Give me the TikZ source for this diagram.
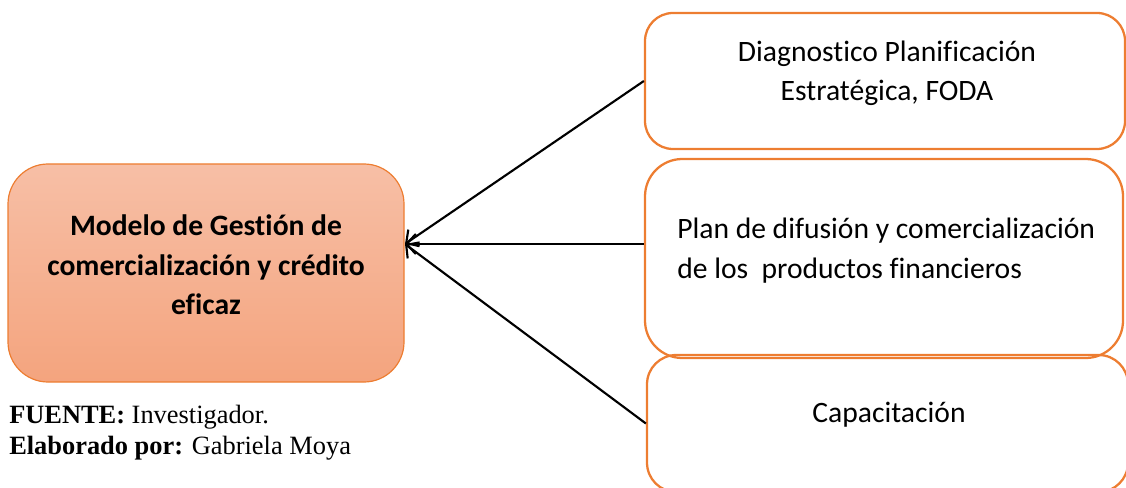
\documentclass[tikz,border=0pt]{standalone}
\usepackage{fontspec}
\setmainfont{Liberation Serif}
\newfontfamily\boxfont[RawFeature={-liga;-clig;-dlig;-calt}]{Carlito}
\usetikzlibrary{arrows.meta,calc}
\definecolor{orangeline}{RGB}{237,125,49}
\definecolor{salmontop}{RGB}{247,191,166}
\definecolor{salmonbot}{RGB}{244,164,126}
\tikzset{
  outbox/.style={draw=orangeline, line width=1.7pt, rounded corners=#1, inner sep=0pt},
  mainbox/.style={draw=orangeline, line width=0.9pt, rounded corners=30pt, top color=salmontop, bottom color=salmonbot, inner sep=0pt},
  boxtext/.style={font=\boxfont\fontsize{22.2}{29.5}\selectfont, inner sep=0pt},
  captext/.style={font=\fontsize{19.8}{23}\selectfont, anchor=base west, inner sep=0pt},
  link/.style={line width=1.6pt, -{Straight Barb[length=7pt,width=15pt,line width=1.6pt]}}
}
\begin{document}
\begin{tikzpicture}[x=0.75pt,y=-0.75pt]
\useasboundingbox (0,0) rectangle (1126,488);
\clip (0,0) rectangle (1126,488);
% boxes
\node[mainbox, minimum width=297pt, minimum height=163.5pt] (main) at (206,273) {};
\node[outbox=21pt, minimum width=360pt, minimum height=102pt] (diag) at (885,81) {};
\node[outbox=22pt, minimum width=360.75pt, minimum height=102.75pt] (capa) at (887.5,423.5) {};
\node[outbox=28pt, minimum width=358.5pt, minimum height=149.25pt] (plan) at (884,258.5) {};
% texts
\node[boxtext, align=center, font=\boxfont\bfseries\fontsize{22.2}{29.5}\selectfont] (maint) at (206,265) {Modelo de Gestión de\\comercialización y crédito\\eficaz};
\node[boxtext, align=center] (diagt) at (887,73) {Diagnostico Planificación\\Estratégica, FODA};
\node[boxtext, align=left, anchor=west] (plant) at (677,250.5) {Plan de difusión y comercialización\\de los\ \ productos financieros};
\node[boxtext] (capat) at (889,415) {Capacitación};
% caption
\node[captext] (fuente) at (9,423) {\textbf{FUENTE:} Investigador.};
\node[captext] (elab) at (9,454) {\textbf{Elaborado por:} Gabriela Moya};
% connectors
\coordinate (tip) at (405,244);
\draw[link] (diag.west) -- (tip);
\draw[link] (plan.west |- tip) -- (tip);
\draw[link] (capa.west) -- (tip);
\end{tikzpicture}
\end{document}
